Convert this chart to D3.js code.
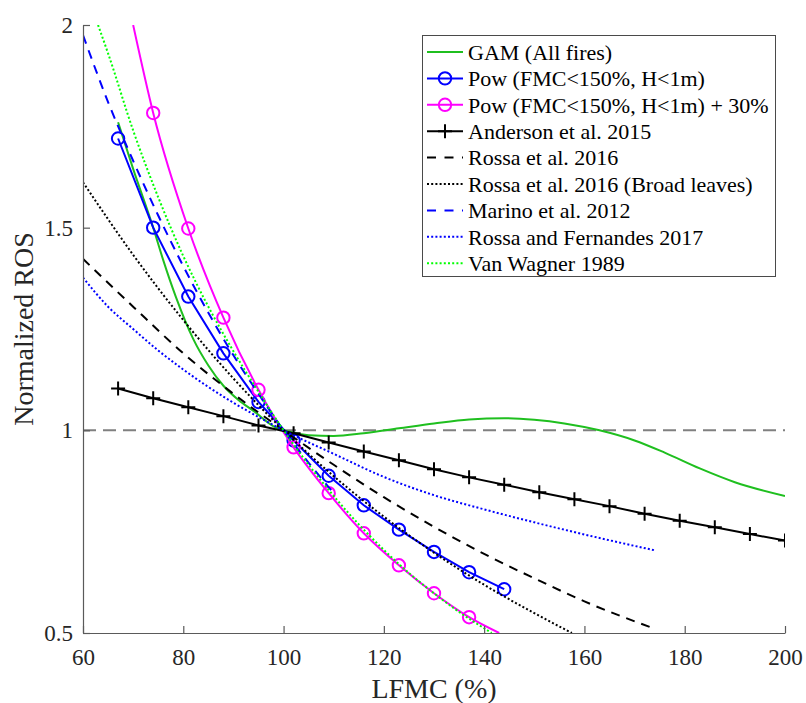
<!DOCTYPE html>
<html>
<head>
<meta charset="utf-8">
<script src="https://cdn.jsdelivr.net/npm/d3@7"></script>
<style>
  html, body { margin: 0; padding: 0; background: #fff; }
  svg { display: block; }
  svg text { font-family: "Liberation Serif", Tinos, "Times New Roman", Times, "DejaVu Serif", "Noto Serif", serif; }
</style>
</head>
<body>
<svg id="chart" width="806" height="703"></svg>
<script>
// ---- data: normalized rate of spread vs. live fuel moisture content ----
const xTicks = [60, 80, 100, 120, 140, 160, 180, 200];
const yTicks = [0.5, 1, 1.5, 2];

// GAM (All fires)
const gamLFMC = [67, 70, 74, 76, 78.5, 82, 85, 88, 91, 94, 98, 101, 105, 110, 116, 123, 130, 137, 144, 150, 156, 163, 170, 176, 183, 190, 200];
const gamROS  = [1.76, 1.645, 1.50, 1.42, 1.33, 1.225, 1.16, 1.11, 1.075, 1.048, 1.01, 0.997, 0.988, 0.986, 0.993, 1.005, 1.017, 1.027, 1.030, 1.026, 1.017, 1.0, 0.975, 0.945, 0.906, 0.872, 0.838];

// Pow (FMC<150%, H<1m)
const powLFMC = [67, 74, 81, 88, 95, 102, 109, 116, 123, 130, 137, 144];
const powROS  = [1.72, 1.50, 1.33, 1.19, 1.07, 0.975, 0.888, 0.815, 0.755, 0.70, 0.65, 0.608];

// Pow (FMC<150%, H<1m) + 30%  (curve ends on the frame, markers inside)
const pow30LFMC = [70, 74, 81, 88, 95, 102, 109, 116, 123, 130, 137, 143];
const pow30ROS  = [2.0, 1.783, 1.498, 1.278, 1.10, 0.958, 0.845, 0.746, 0.667, 0.598, 0.539, 0.5];
const pow30MarkerLFMC = [74, 81, 88, 95, 102, 109, 116, 123, 130, 137];

// Anderson et al. 2015
const andersonLFMC = [67, 74, 81, 88, 95, 102, 109, 116, 123, 130, 137, 144, 151, 158, 165, 172, 179, 186, 193, 200];
const andersonROS  = [1.103, 1.079, 1.057, 1.035, 1.012, 0.993, 0.970, 0.948, 0.926, 0.904, 0.884, 0.866, 0.847, 0.830, 0.813, 0.794, 0.777, 0.761, 0.744, 0.728];

// Rossa et al. 2016
const rossaLFMC = [60, 70, 80, 90, 100, 110, 120, 130, 140, 150, 160, 173];
const rossaROS  = [1.423, 1.305, 1.19, 1.09, 1.0, 0.915, 0.835, 0.762, 0.695, 0.635, 0.578, 0.515];

// Rossa et al. 2016 (Broad leaves)
const rossaBroadLFMC = [60, 70, 80, 90, 100, 110, 120, 130, 140, 150, 157.5];
const rossaBroadROS  = [1.612, 1.433, 1.272, 1.128, 1.0, 0.887, 0.787, 0.698, 0.619, 0.549, 0.5];

// Marino et al. 2012
const marinoLFMC = [60, 65, 70, 75, 80, 85, 90, 95, 100, 105, 110];
const marinoROS  = [1.975, 1.81, 1.665, 1.53, 1.405, 1.29, 1.185, 1.09, 1.0, 0.92, 0.845];

// Rossa and Fernandes 2017
const rfLFMC = [60, 65, 70, 75, 80, 85, 90, 95, 100, 110, 120, 130, 140, 150, 160, 174];
const rfROS  = [1.377, 1.305, 1.25, 1.197, 1.15, 1.107, 1.068, 1.033, 1.0, 0.942, 0.885, 0.84, 0.805, 0.773, 0.743, 0.704];

// Van Wagner 1989
const vwLFMC = [63, 65, 70, 75, 80, 85, 90, 95, 100, 105, 110, 115, 120, 125, 130, 135, 141.5];
const vwROS  = [2.0, 1.93, 1.74, 1.575, 1.43, 1.305, 1.195, 1.095, 1.0, 0.915, 0.838, 0.768, 0.705, 0.648, 0.598, 0.552, 0.5];

// ---- layout ----
const FONT = '"Liberation Serif", Tinos, "Times New Roman", Times, "DejaVu Serif", "Noto Serif", serif';
const svg = d3.select("#chart");
const plot = { left: 83, right: 785, top: 25, bottom: 633 };

const x = d3.scaleLinear().domain([60, 200]).range([plot.left, plot.right]);
const y = d3.scaleLinear().domain([0.5, 2]).range([plot.bottom, plot.top]);

const zip = (xs, ys) => xs.map((v, i) => [v, ys[i]]);

svg.append("defs").append("clipPath").attr("id", "plotClip")
  .append("rect")
  .attr("x", plot.left).attr("y", plot.top)
  .attr("width", plot.right - plot.left).attr("height", plot.bottom - plot.top);

const series = [
  { name: "GAM (All fires)", pts: zip(gamLFMC, gamROS), color: "#1fbf1f", dash: null, curve: d3.curveMonotoneX },
  { name: "Pow (FMC<150%, H<1m)", pts: zip(powLFMC, powROS), color: "#0000ff", dash: null, curve: d3.curveLinear,
    marker: "circle", markerPts: zip(powLFMC, powROS) },
  { name: "Pow (FMC<150%, H<1m) + 30%", pts: zip(pow30LFMC, pow30ROS), color: "#ff00ff", dash: null, curve: d3.curveMonotoneX,
    marker: "circle", markerPts: zip(pow30LFMC, pow30ROS).filter(p => pow30MarkerLFMC.includes(p[0])) },
  { name: "Anderson et al. 2015", pts: zip(andersonLFMC, andersonROS), color: "#000000", dash: null, curve: d3.curveLinear,
    marker: "plus", markerPts: zip(andersonLFMC, andersonROS) },
  { name: "Rossa et al. 2016", pts: zip(rossaLFMC, rossaROS), color: "#000000", dash: "9,7", curve: d3.curveMonotoneX },
  { name: "Rossa et al. 2016 (Broad leaves)", pts: zip(rossaBroadLFMC, rossaBroadROS), color: "#000000", dash: "2,2.2", curve: d3.curveMonotoneX },
  { name: "Marino et al. 2012", pts: zip(marinoLFMC, marinoROS), color: "#0000ff", dash: "9,7", curve: d3.curveMonotoneX },
  { name: "Rossa and Fernandes 2017", pts: zip(rfLFMC, rfROS), color: "#0000ff", dash: "2,2.2", curve: d3.curveMonotoneX },
  { name: "Van Wagner 1989", pts: zip(vwLFMC, vwROS), color: "#00ff00", dash: "2,2.2", curve: d3.curveMonotoneX }
];

// ---- reference line at ROS = 1 ----
svg.append("line")
  .attr("x1", x(60)).attr("x2", x(200))
  .attr("y1", y(1)).attr("y2", y(1))
  .attr("stroke", "#808080").attr("stroke-width", 2)
  .attr("stroke-dasharray", "13,7");

// ---- curves ----
const curvesG = svg.append("g").attr("clip-path", "url(#plotClip)");

function drawMarker(g, kind, cx, cy, color) {
  if (kind === "circle") {
    g.append("circle").attr("cx", cx).attr("cy", cy).attr("r", 6.2)
      .attr("fill", "none").attr("stroke", color).attr("stroke-width", 2);
  } else if (kind === "plus") {
    const s = 7;
    g.append("path")
      .attr("d", `M${cx - s},${cy}H${cx + s}M${cx},${cy - s}V${cy + s}`)
      .attr("stroke", color).attr("stroke-width", 2).attr("fill", "none");
  }
}

series.forEach(s => {
  const line = d3.line().x(d => x(d[0])).y(d => y(d[1])).curve(s.curve);
  curvesG.append("path")
    .datum(s.pts)
    .attr("d", line)
    .attr("fill", "none")
    .attr("stroke", s.color)
    .attr("stroke-width", 2)
    .attr("stroke-dasharray", s.dash);
  if (s.marker) {
    const mg = curvesG.append("g");
    s.markerPts.forEach(p => drawMarker(mg, s.marker, x(p[0]), y(p[1]), s.color));
  }
});

// ---- axes (inward ticks, no box) ----
const axisColor = "#5a5a5a";
const xAxis = svg.append("g")
  .attr("transform", `translate(0,${plot.bottom})`)
  .call(d3.axisBottom(x).tickValues(xTicks).tickSize(-7).tickSizeOuter(0).tickPadding(16).tickFormat(d3.format("d")));
const yAxis = svg.append("g")
  .attr("transform", `translate(${plot.left},0)`)
  .call(d3.axisLeft(y).tickValues(yTicks).tickSize(-7).tickSizeOuter(0).tickPadding(10).tickFormat(d => String(d)));

[xAxis, yAxis].forEach(a => {
  a.attr("font-family", FONT).attr("font-size", 23);
  a.select(".domain").attr("stroke", axisColor).attr("stroke-width", 1.2);
  a.selectAll(".tick line").attr("stroke", axisColor).attr("stroke-width", 1.2);
  a.selectAll(".tick text")
    .attr("fill", "#262626")
    .attr("font-family", FONT)
    .attr("font-size", 23);
});

// axis titles
svg.append("text")
  .attr("x", (plot.left + plot.right) / 2).attr("y", 698)
  .attr("text-anchor", "middle")
  .attr("fill", "#262626")
  .attr("font-family", FONT)
  .attr("font-size", 28)
  .text("LFMC (%)");

svg.append("text")
  .attr("transform", `translate(33,${(plot.top + plot.bottom) / 2}) rotate(-90)`)
  .attr("text-anchor", "middle")
  .attr("fill", "#262626")
  .attr("font-family", FONT)
  .attr("font-size", 28)
  .text("Normalized ROS");

// ---- legend ----
const legend = svg.append("g");
legend.append("rect")
  .attr("x", 422.5).attr("y", 35.5)
  .attr("width", 353).attr("height", 241)
  .attr("fill", "#fff")
  .attr("stroke", "#4a4a4a").attr("stroke-width", 1);

series.forEach((s, i) => {
  const cy = 52 + i * 26.4;
  const row = legend.append("g");
  row.append("line")
    .attr("x1", 427).attr("x2", 463)
    .attr("y1", cy).attr("y2", cy)
    .attr("stroke", s.color).attr("stroke-width", 2)
    .attr("stroke-dasharray", s.dash === "9,7" ? "9,8.5" : s.dash);
  if (s.marker) drawMarker(row, s.marker, 445, cy, s.color);
  row.append("text")
    .attr("x", 468).attr("y", cy)
    .attr("dy", "0.35em")
    .attr("fill", "#000")
    .attr("font-family", FONT)
    .attr("font-size", 22)
    .text(s.name);
});
</script>
</body>
</html>
